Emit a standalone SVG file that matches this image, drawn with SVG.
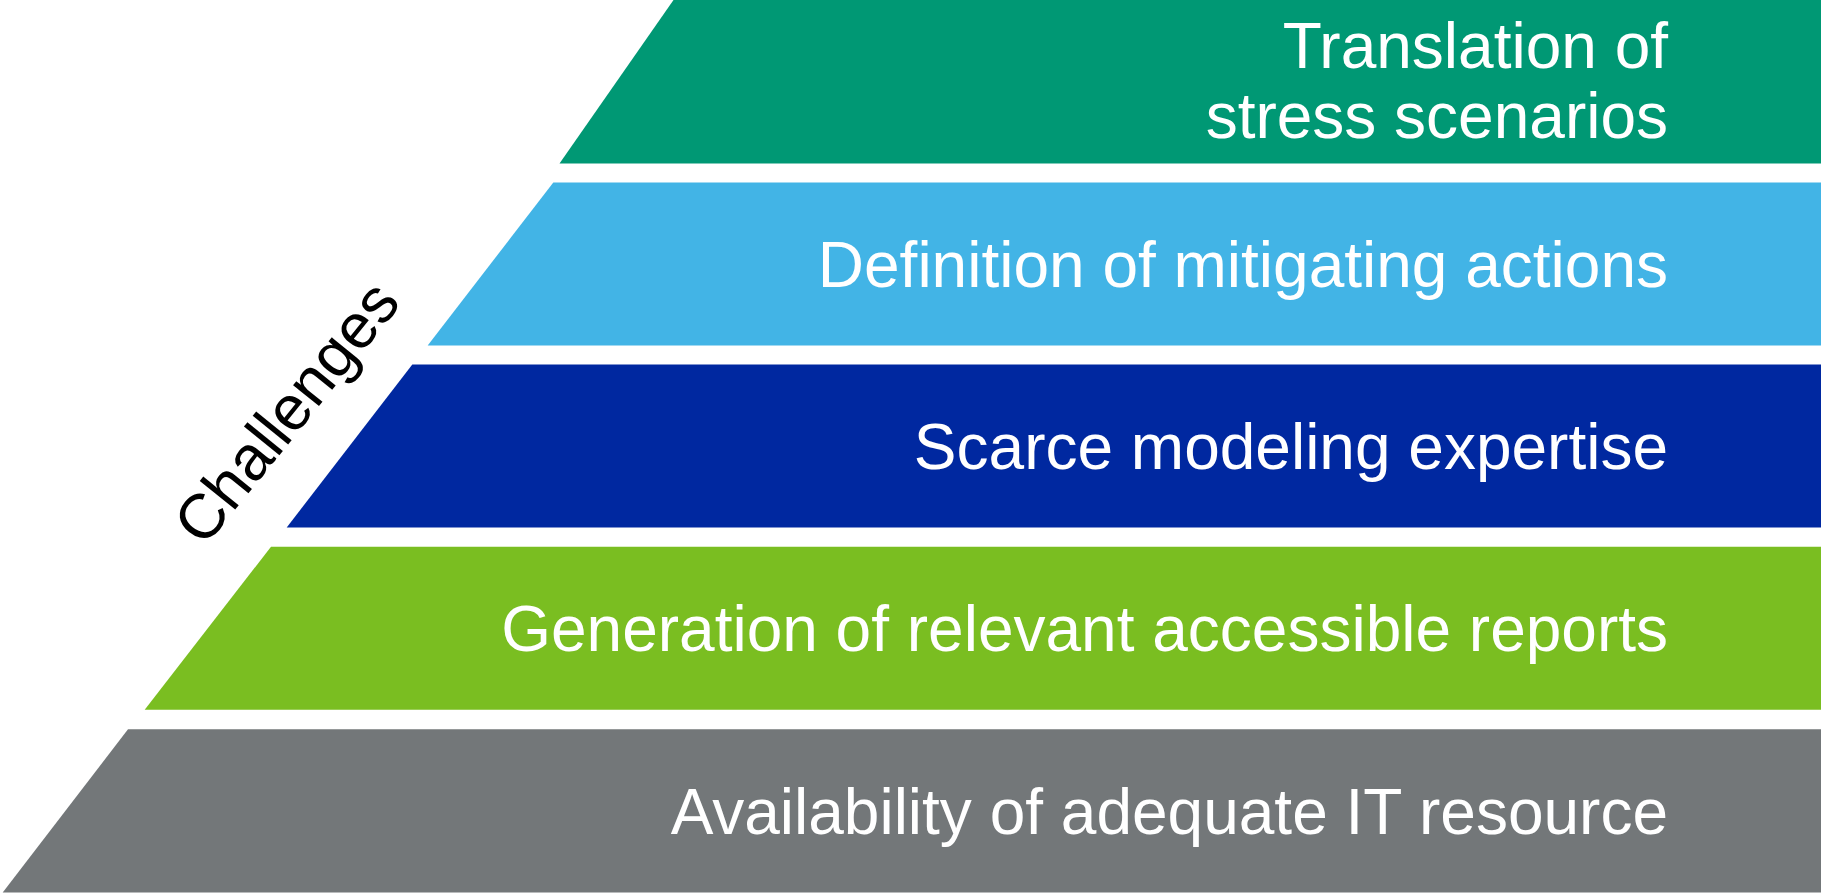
<svg xmlns="http://www.w3.org/2000/svg" width="1821" height="894" viewBox="0 0 1821 894">
<style>
.lbl{font-family:"Liberation Sans",Arial,sans-serif;font-size:64px;fill:#ffffff;text-anchor:end}
.side{font-family:"Liberation Sans",Arial,sans-serif;font-size:63px;fill:#000000;text-anchor:middle}
</style>
<rect width="1821" height="894" fill="#ffffff"/>
<g id="band1">
<polygon points="673.5,0 1821,0 1821,163.5 559.5,163.5" fill="#009874"/>
<text class="lbl" x="1668" y="68">Translation of</text>
<text class="lbl" x="1668" y="138">stress scenarios</text>
</g>
<g id="band2">
<polygon points="553.3,182.5 1821,182.5 1821,345.5 427.7,345.5" fill="#42B4E6"/>
<text class="lbl" x="1668" y="287">Definition of mitigating actions</text>
</g>
<g id="band3">
<polygon points="412.3,364.5 1821,364.5 1821,527.5 286.7,527.5" fill="#0028A0"/>
<text class="lbl" x="1668" y="469">Scarce modeling expertise</text>
</g>
<g id="band4">
<polygon points="271,546.7 1821,546.7 1821,709.7 144.7,709.7" fill="#7ABE21"/>
<text class="lbl" x="1668" y="651">Generation of relevant accessible reports</text>
</g>
<g id="band5">
<polygon points="128,729.3 1821,729.3 1821,892.5 2.7,892.5" fill="#737779"/>
<text class="lbl" x="1668" y="834">Availability of adequate IT resource</text>
</g>
<g id="challenges">
<text class="side" transform="translate(286,412) rotate(-51)" x="0" y="22">Challenges</text>
</g>
<g id="connectors"></g>
</svg>
